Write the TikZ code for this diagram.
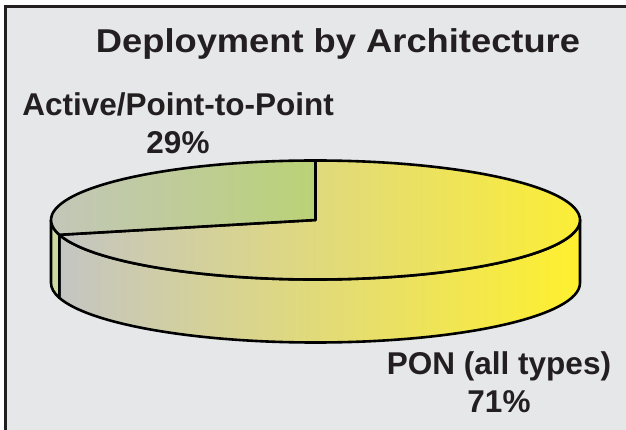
\documentclass[tikz,border=0pt]{standalone}
\usepackage{fontspec}
\setmainfont{Liberation Sans}
\newfontfamily\titlefont[FakeStretch=1.1]{Liberation Sans}
\usepackage{tikz}
\usepackage{xcolor}
\usetikzlibrary{positioning, calc}
\definecolor{cBack}{RGB}{230,231,232}
\definecolor{cInk}{RGB}{35,31,32}
\definecolor{cGray}{RGB}{196,197,195}
\definecolor{cYellow}{RGB}{255,240,46}
\definecolor{cGreen}{RGB}{186,210,118}
\definecolor{cGreenSide}{RGB}{206,217,160}
\tikzset{
	pieline/.style={draw=black, line width=2.6pt, line join=round},
	titletext/.style={font=\titlefont\bfseries\fontsize{33}{40}\selectfont, text=cInk, inner sep=0pt},
	slicetext/.style={font=\bfseries\fontsize{31.5}{38}\selectfont, text=cInk, align=center, inner sep=0pt},
	pieradius/.style={x radius=264.5, y radius=59.5},
}

\begin{document}
\begin{tikzpicture}[x=1pt, y=1pt]
	% frame
	\useasboundingbox (0,0) rectangle (626,430);
	\fill[white] (0,0) rectangle (626,430);
	\fill[cBack] (5,0) rectangle (626,424);
	\draw[cInk, line width=3pt] (5.3,0) -- (5.3,423.5) -- (626,423.5);
	% pie centre and slice edge
	\coordinate (ctr) at (315.5,210);
	\coordinate (cut) at (59.3,195.2);
	% sides
	\path[pieline, left color=cGray, right color=cYellow] (cut) arc[start angle=194.4, end angle=360, pieradius] -- ++(0,-63) arc[start angle=360, end angle=194.4, pieradius] -- cycle;
	\path[pieline, fill=cGreenSide] (51,210) arc[start angle=180, end angle=194.4, pieradius] -- ++(0,-63) arc[start angle=194.4, end angle=180, pieradius] -- cycle;
	% top faces
	\path[pieline, left color=cGray, right color=cYellow] (ctr) -- (cut) arc[start angle=194.4, end angle=450, pieradius] -- cycle;
	\path[pieline, left color=cGray!90!cGreen, right color=cGreen] (ctr) -- ++(0,59.5) arc[start angle=90, end angle=194.4, pieradius] -- cycle;
	% labels
	\node[titletext, anchor=base] (title) at (338,377) {Deployment by Architecture};
	\node[slicetext, anchor=north] (actlabel) at (178,338) {Active/Point-to-Point\\29\%};
	\node[slicetext, anchor=north] (ponlabel) at (499,79) {PON (all types)\\71\%};
\end{tikzpicture}
\end{document}
